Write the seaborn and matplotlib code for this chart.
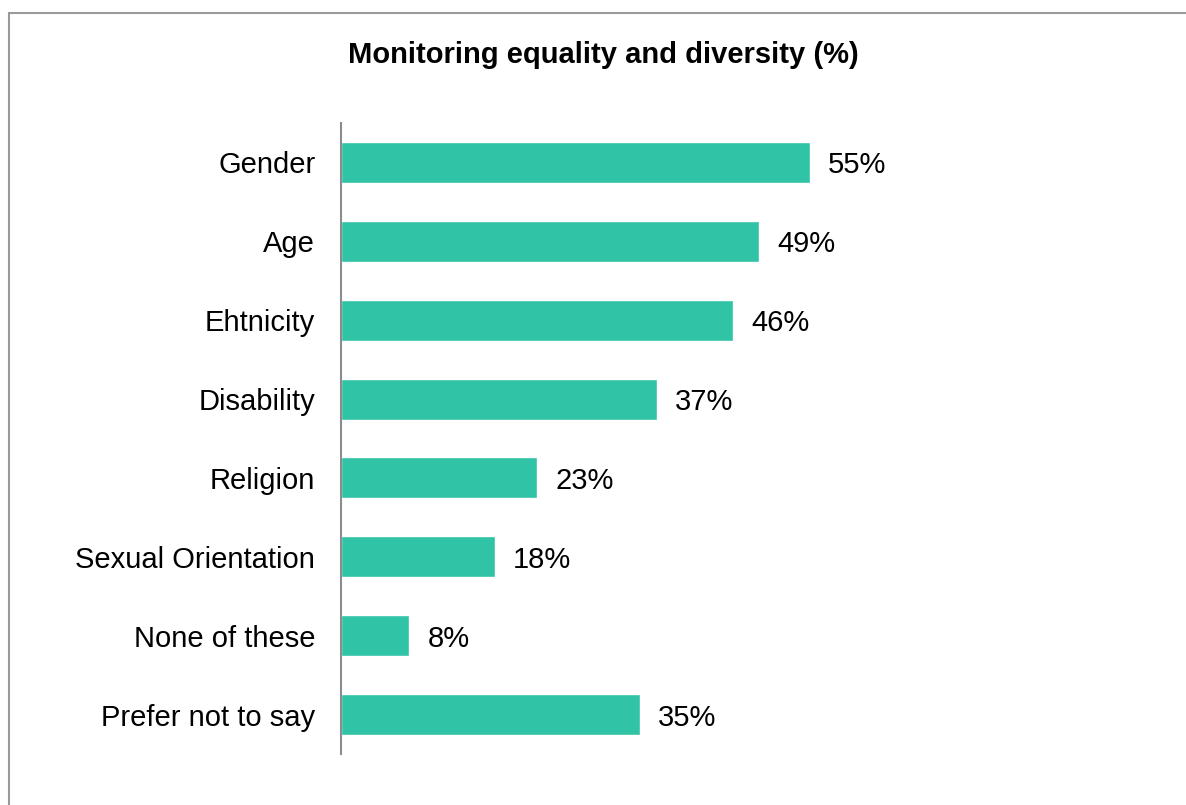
import matplotlib
matplotlib.use("Agg")
import matplotlib.pyplot as plt
from matplotlib.patches import Rectangle
import seaborn as sns
import pandas as pd

categories = ["Gender", "Age", "Ehtnicity", "Disability", "Religion",
              "Sexual Orientation", "None of these", "Prefer not to say"]
values = [55, 49, 46, 37, 23, 18, 8, 35]
title = "Monitoring equality and diversity (%)"

sns.set_theme(style="white")
plt.rcParams["font.family"] = ["Liberation Sans", "DejaVu Sans"]

df = pd.DataFrame({"category": categories, "value": values})

W, H = 1186, 805
fig = plt.figure(figsize=(W / 100, H / 100), dpi=100)
fig.patch.set_facecolor("white")

# chart frame (left and top edges show, the rest runs off the canvas)
fig.patches.append(Rectangle((8.5 / W, -0.05), 1.2, 1 - 13.5 / H + 0.05,
                             transform=fig.transFigure, fill=False,
                             edgecolor="#9a9a9a", linewidth=1.5, zorder=0))

ax = fig.add_axes([341 / W, 1 - 754 / H, 760 / W, 631 / H])
sns.barplot(data=df, y="category", x="value", orient="h", color="#30C3A5",
            saturation=1, width=0.52, ax=ax)

ax.set_xlim(0, 760 / 8.53)
ax.set_ylim(len(categories) - 0.5, -0.5)
ax.set_xlabel("")
ax.set_ylabel("")
ax.set_xticks([])
for s in ["top", "right", "bottom"]:
    ax.spines[s].set_visible(False)
ax.spines["left"].set_color("#8c8c8c")
ax.spines["left"].set_linewidth(1.5)
ax.tick_params(axis="y", length=0, pad=18.5, labelsize=21, labelcolor="black")
for lbl in ax.get_yticklabels():
    lbl.set_verticalalignment("center_baseline")
ax.set_facecolor("none")

for i, v in enumerate(values):
    ax.annotate(f"{v}%", xy=(v, i), xytext=(13, 0), textcoords="offset points",
                ha="left", va="center_baseline", fontsize=21, color="black")

fig.text(603 / W, 1 - 63 / H, title, ha="center", va="baseline",
         fontsize=21, fontweight="bold", color="black")

fig.savefig("out.png", dpi=100)
